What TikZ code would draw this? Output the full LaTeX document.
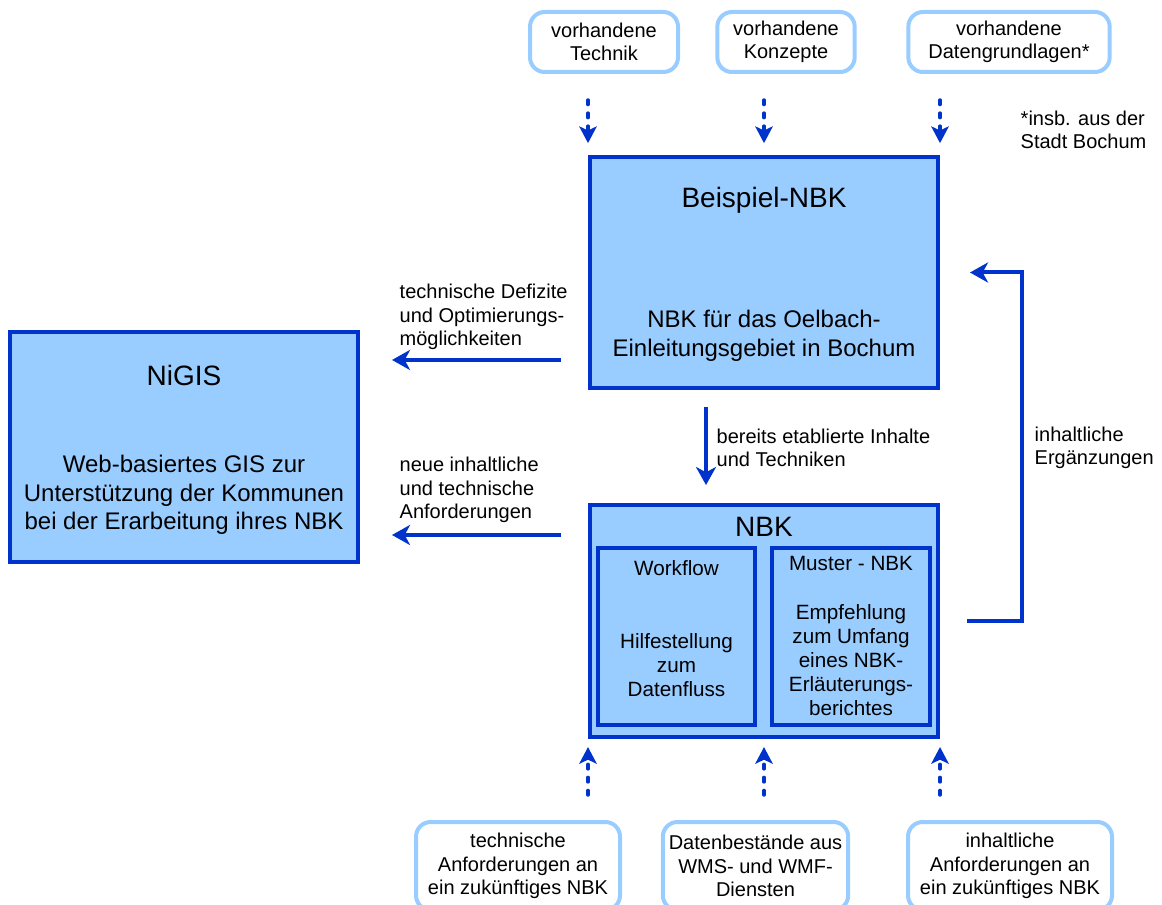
\documentclass[tikz,border=0pt]{standalone}
\usepackage{fontspec}
\setmainfont{Liberation Sans}
\usetikzlibrary{arrows.meta}
\definecolor{hellblau}{HTML}{99CCFF}
\definecolor{dunkelblau}{HTML}{0033CC}

\begin{document}
\begin{tikzpicture}[x=0.75pt,y=-0.75pt,
    quelle/.style={draw=hellblau,line width=3pt,rounded corners=11pt,fill=white,align=center,
      inner sep=0pt,minimum height=45pt,font=\fontsize{15}{17.5}\selectfont},
    kasten/.style={draw=dunkelblau,fill=hellblau,line width=3pt,inner sep=0pt},
    titel/.style={font=\fontsize{21}{25}\selectfont},
    text gross/.style={align=center,font=\fontsize{18}{21.5}\selectfont},
    text klein/.style={align=center,font=\fontsize{15.5}{18}\selectfont},
    beschriftung/.style={anchor=west,align=left,font=\fontsize{15}{17.5}\selectfont},
    pfeil/.style={draw=dunkelblau,line width=3pt,-{Stealth[length=13.5pt,width=15pt,inset=4pt]}},
    punktpfeil/.style={draw=dunkelblau,line width=2.6pt,line cap=round,dash pattern=on 3.4pt off 6.4pt,
      -{Stealth[length=12.5pt,width=13pt,inset=3pt,line cap=butt]}}]
  \useasboundingbox (0,0) rectangle (1162,905);

  % Quellen oben
  \node [quelle,minimum width=111pt] (technik) at (604,42) {vorhandene\\Technik};
  \node [quelle,minimum width=103pt] (konzepte) at (786,42) {vorhandene\\Konzepte};
  \node [quelle,minimum width=151pt] (daten) at (1009,42) {vorhandene\\Datengrundlagen*};
  \node [beschriftung] (fussnote) at (1016,130) {*insb. aus der\\Stadt Bochum};

  % Beispiel-NBK
  \node [kasten,minimum width=261pt,minimum height=173pt] (beispiel) at (764,272.5) {};
  \node [titel] (beispieltitel) at (764,200) {Beispiel-NBK};
  \node [text gross] (beispieltext) at (764,336) {NBK für das Oelbach-\\Einleitungsgebiet in Bochum};

  % NiGIS
  \node [kasten,minimum width=261pt,minimum height=173pt] (nigis) at (184,447) {};
  \node [titel] (nigistitel) at (184,375) {NiGIS};
  \node [text gross] (nigistext) at (184,495) {Web-basiertes GIS zur\\Unterstützung der Kommunen\\bei der Erarbeitung ihres NBK};

  % NBK mit Unterkaesten
  \node [kasten,minimum width=261pt,minimum height=174pt] (nbk) at (764,621) {};
  \node [titel] (nbktitel) at (764,527) {NBK};
  \node [kasten,minimum width=118pt,minimum height=133pt] (workflow) at (676.5,636.5) {};
  \node [kasten,minimum width=118pt,minimum height=133pt] (muster) at (851,636.5) {};
  \node [text klein] (workflowtitel) at (676.5,568) {Workflow};
  \node [text klein] (workflowtext) at (676.5,665) {Hilfestellung\\zum\\Datenfluss};
  \node [text klein] (mustertitel) at (851,563) {Muster - NBK};
  \node [text klein] (mustertext) at (851,660) {Empfehlung\\zum Umfang\\eines NBK-\\Erläuterungs-\\berichtes};

  % Quellen unten (unten abgeschnitten)
  \node [quelle,minimum width=153pt,minimum height=66pt] (tanf) at (518,866) {technische\\Anforderungen an\\ein zukünftiges NBK};
  \node [quelle,minimum width=139pt,minimum height=66pt] (dienste) at (755.5,866) {Datenbestände aus\\WMS- und WMF-\\Diensten};
  \node [quelle,minimum width=153pt,minimum height=66pt] (ianf) at (1010,866) {inhaltliche\\Anforderungen an\\ein zukünftiges NBK};

  % gepunktete Pfeile
  \draw [punktpfeil,shorten <=19.5pt,shorten >=9pt] (beispiel.north west |- technik.south) -- (beispiel.north west);
  \draw [punktpfeil,shorten <=19.5pt,shorten >=9pt] (beispiel.north |- konzepte.south) -- (beispiel.north);
  \draw [punktpfeil,shorten <=19.5pt,shorten >=9pt] (beispiel.north east |- daten.south) -- (beispiel.north east);
  \draw [punktpfeil,shorten <=18.75pt,shorten >=6pt] (nbk.south west |- tanf.north) -- (nbk.south west);
  \draw [punktpfeil,shorten <=18.75pt,shorten >=6pt] (nbk.south |- dienste.north) -- (nbk.south);
  \draw [punktpfeil,shorten <=18.75pt,shorten >=6pt] (nbk.south east |- ianf.north) -- (nbk.south east);

  % Pfeile nach links
  \coordinate (defizit) at ([yshift=-65.6pt]beispiel.west);
  \coordinate (anforderung) at ([yshift=64.5pt]nbk.west);
  \draw [pfeil,shorten <=20.25pt,shorten >=24pt] (defizit) -- (defizit -| nigis.east);
  \draw [pfeil,shorten <=20.25pt,shorten >=24pt] (anforderung) -- (anforderung -| nigis.east);
  \node [beschriftung] (defizittext) at (395,317) {technische Defizite\\und Optimierungs-\\möglichkeiten};
  \node [beschriftung] (anforderungtext) at (395,490) {neue inhaltliche\\und technische\\Anforderungen};

  % Pfeil nach unten
  \draw [pfeil,shorten <=12.75pt,shorten >=13.5pt] ([xshift=-43.5pt]beispiel.south) -- ([xshift=-43.5pt]nbk.north);
  \node [beschriftung] (etabliert) at (712,448) {bereits etablierte Inhalte\\und Techniken};

  % Rueckkopplung
  \coordinate (rueck) at (1022,450);
  \draw [pfeil,shorten <=20.25pt,shorten >=22.5pt] (nbk.east) -- (nbk.east -| rueck) |- (beispiel.east);
  \node [beschriftung] (ergaenzung) at (1030,448) {inhaltliche\\Ergänzungen};
\end{tikzpicture}
\end{document}
